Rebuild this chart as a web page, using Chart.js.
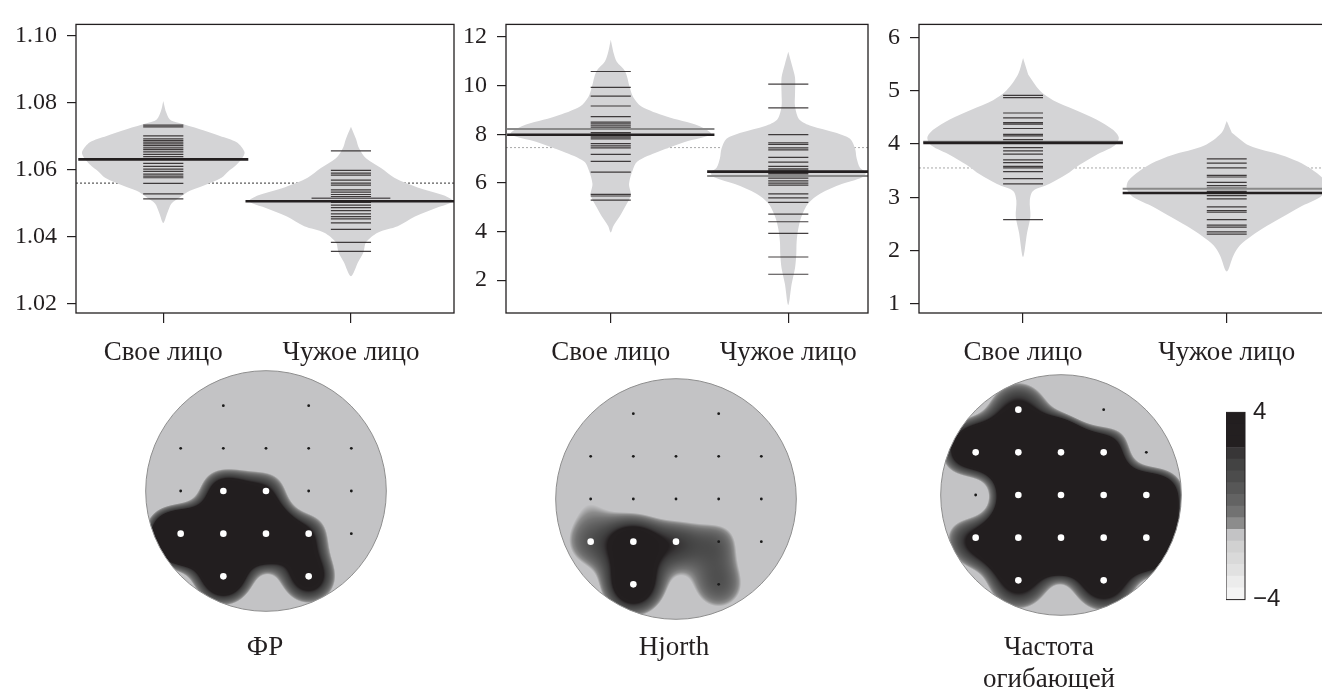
<!DOCTYPE html>
<html lang="ru">
<head>
<meta charset="utf-8">
<title>Beanplots and topographic maps</title>
<script src="https://cdn.jsdelivr.net/npm/chart.js@4.4.1/dist/chart.umd.min.js"></script>
<style>
  html, body { margin: 0; padding: 0; background: #fff; width: 1322px; height: 689px; overflow: hidden; }
  .panel { position: absolute; }
  .caption { position: absolute; width: 240px; text-align: center; font-family: "Liberation Serif", "Times New Roman", serif; font-size: 27px; line-height: 32px; color: #231f20; }
</style>
</head>
<body>
<div class="panel" style="left:0px;top:0px;width:460px;height:372px"><canvas id="beanFR"></canvas></div>
<div class="panel" style="left:440px;top:0px;width:440px;height:372px"><canvas id="beanHjorth"></canvas></div>
<div class="panel" style="left:860px;top:0px;width:480px;height:372px"><canvas id="beanEnv"></canvas></div>
<div class="panel" style="left:134px;top:359px;width:264px;height:264px"><canvas id="topoFR"></canvas></div>
<div class="panel" style="left:544px;top:367px;width:264px;height:264px"><canvas id="topoHjorth"></canvas></div>
<div class="panel" style="left:929px;top:363px;width:264px;height:264px"><canvas id="topoEnv"></canvas></div>
<div class="panel" style="left:1226px;top:390px;width:79px;height:232px"><canvas id="colorbar"></canvas></div>
<div class="caption" style="left:145px;top:630px">ФР</div>
<div class="caption" style="left:554px;top:630px">Hjorth</div>
<div class="caption" style="left:929px;top:630px">Частота<br>огибающей</div>
<script>
// ---------- data ----------
const categories = ["Свое лицо", "Чужое лицо"];

// ФР
const frOwn = [1.0733, 1.0728, 1.0701, 1.0692, 1.0687, 1.0682, 1.0677, 1.0672, 1.0665, 1.0660, 1.0653, 1.0646,
  1.0639, 1.0619, 1.0610, 1.0602, 1.0595, 1.0587, 1.0581, 1.0576, 1.0559, 1.0528, 1.0513];
const frOther = [1.0656, 1.0598, 1.0590, 1.0584, 1.0569, 1.0560, 1.0554, 1.0540, 1.0533, 1.0526, 1.0520, 1.0508,
  1.0502, 1.0494, 1.0487, 1.0478, 1.0468, 1.0460, 1.0453, 1.0441, 1.0422, 1.0383, 1.0356];
// bean outlines: [value, half width]
const frOwnShape = [[1.0805, 0], [1.0776, 0.012], [1.0750, 0.035], [1.0740, 0.08], [1.0721, 0.195], [1.0701, 0.302],
  [1.0682, 0.391], [1.0653, 0.433], [1.0634, 0.42], [1.0615, 0.39], [1.0595, 0.346], [1.0576, 0.31], [1.0552, 0.213],
  [1.0537, 0.142], [1.0518, 0.089], [1.0499, 0.044], [1.0470, 0.021], [1.0441, 0]];
const frOtherShape = [[1.0728, 0], [1.0692, 0.027], [1.0663, 0.044], [1.0634, 0.08], [1.0605, 0.16], [1.0576, 0.231],
  [1.0547, 0.355], [1.0523, 0.497], [1.0506, 0.542], [1.0489, 0.471], [1.0460, 0.341], [1.0431, 0.249], [1.0412, 0.142],
  [1.0383, 0.08], [1.0354, 0.067], [1.0325, 0.039], [1.0282, 0]];
const frMeans = [1.0631, 1.0506];
const frMedians = [null, 1.0515];
const frGrandMean = 1.0560;
const frTicks = [1.02, 1.04, 1.06, 1.08, 1.10];
const frTickLabels = ["1.02", "1.04", "1.06", "1.08", "1.10"];

// Hjorth
const hjOwn = [10.58, 9.93, 9.57, 9.16, 8.72, 8.50, 8.43, 8.37, 8.29, 8.07, 8.01, 7.97, 7.94, 7.88, 7.81, 7.61, 7.52,
  7.44, 7.17, 6.88, 6.44, 5.53, 5.46, 5.29];
const hjOther = [10.06, 9.08, 7.98, 7.65, 7.58, 7.44, 7.36, 7.05, 6.85, 6.68, 6.58, 6.52, 6.46, 6.39, 6.32, 6.26, 6.19,
  6.08, 5.99, 5.91, 5.55, 5.38, 5.20, 4.71, 4.40, 3.92, 2.95, 2.24];
const hjOwnShape = [[11.89, 0], [11.39, 0.014], [10.99, 0.033], [10.59, 0.081], [9.93, 0.107], [9.53, 0.126],
  [9.14, 0.173], [8.74, 0.31], [8.34, 0.498], [8.01, 0.564], [7.68, 0.417], [7.28, 0.267], [6.88, 0.15], [6.49, 0.122],
  [5.95, 0.103], [5.49, 0.113], [5.02, 0.081], [4.63, 0.051], [4.23, 0.015], [3.96, 0]];
const hjOtherShape = [[11.39, 0], [10.86, 0.02], [10.33, 0.038], [9.67, 0.038], [9.14, 0.038], [8.61, 0.062],
  [8.34, 0.13], [8.07, 0.263], [7.81, 0.348], [7.41, 0.376], [7.01, 0.385], [6.62, 0.404], [6.42, 0.437], [6.22, 0.414],
  [5.95, 0.301], [5.55, 0.179], [5.16, 0.113], [4.63, 0.075], [4.10, 0.056], [3.57, 0.047], [3.04, 0.045], [2.50, 0.038],
  [1.84, 0.019], [0.98, 0]];
const hjMeans = [7.98, 6.46];
const hjMedians = [8.21, 6.28];
const hjGrandMean = 7.45;
const hjTicks = [2, 4, 6, 8, 10, 12];
const hjTickLabels = ["2", "4", "6", "8", "10", "12"];

// Частота огибающей
const envOwn = [4.91, 4.87, 4.58, 4.49, 4.40, 4.37, 4.29, 4.18, 4.15, 4.08, 3.93, 3.87, 3.81, 3.70, 3.65, 3.58, 3.55,
  3.48, 3.35, 3.25, 2.58];
const envOther = [3.72, 3.64, 3.55, 3.41, 3.38, 3.28, 3.22, 3.17, 3.11, 3.08, 3.03, 2.97, 2.82, 2.75, 2.72, 2.58, 2.48,
  2.44, 2.35, 2.31];
const envOwnShape = [[5.61, 0], [5.30, 0.025], [5.00, 0.082], [4.82, 0.147], [4.64, 0.254], [4.46, 0.36], [4.27, 0.44],
  [4.12, 0.47], [3.97, 0.45], [3.79, 0.357], [3.61, 0.278], [3.43, 0.213], [3.25, 0.128], [3.12, 0.049], [2.94, 0.033],
  [2.64, 0.036], [2.34, 0.02], [1.88, 0]];
const envOtherShape = [[4.43, 0], [4.21, 0.025], [3.97, 0.11], [3.79, 0.27], [3.67, 0.35], [3.49, 0.43], [3.31, 0.483],
  [3.16, 0.491], [3.00, 0.458], [2.82, 0.36], [2.64, 0.278], [2.46, 0.196], [2.28, 0.123], [2.10, 0.065], [1.91, 0.033],
  [1.61, 0]];
const envMeans = [4.02, 3.08];
const envMedians = [4.04, 3.16];
const envGrandMean = 3.55;
const envTicks = [1, 2, 3, 4, 5, 6];
const envTickLabels = ["1", "2", "3", "4", "5", "6"];

// electrodes (10-20, grid units, Cz at 0,0)
const electrodes = ["Fp1", "Fp2", "F7", "F3", "Fz", "F4", "F8", "T3", "C3", "Cz", "C4", "T4", "T5", "P3", "Pz", "P4", "T6", "O1", "O2"];
const elecX = [-1, 1, -2, -1, 0, 1, 2, -2, -1, 0, 1, 2, -2, -1, 0, 1, 2, -1, 1];
const elecY = [-2, -2, -1, -1, -1, -1, -1, 0, 0, 0, 0, 0, 1, 1, 1, 1, 1, 2, 2];
// values on the colour scale at each electrode, and significance flags
const frField = [-1.25, -1.25, -1.25, -1.25, -1.25, -1.25, -1.25, -1.25, 4.4, 3.2, -1.25, -1.25, 8, 6, 6.5, 3.2, -1.25, 4.5, 3.8];
const frSig = [0, 0, 0, 0, 0, 0, 0, 0, 1, 1, 0, 0, 1, 1, 1, 1, 0, 1, 1];
const hjField = [-1.25, -1.25, -1.25, -1.25, -1.25, -1.25, -1.25, 1.0, -0.6, -1.25, -1.25, -1.25, 2.2, 5, 3.0, 2.4, -1.25, 5, 2.4];
const hjSig = [0, 0, 0, 0, 0, 0, 0, 0, 0, 0, 0, 0, 1, 1, 1, 0, 0, 1, 0];
const envField = [2.0, -1.25, 3.5, 6, 6, 3.8, -1.25, -1.25, 4, 6, 6, 5, 2.2, 6, 6, 6, 5, 2.2, 2.6];
const envSig = [1, 0, 1, 1, 1, 1, 0, 0, 1, 1, 1, 1, 1, 1, 1, 1, 1, 1, 1];

// colour scale
const cbarLevels = [-4, -3.5, -3, -2.5, -2, -1.5, -1, -0.5, 0, 0.5, 1, 1.5, 2, 2.5, 3, 3.5];
const cbarColors = ["#f4f4f4", "#ececec", "#e1e1e1", "#d9d9d9", "#d1d1d1", "#c3c3c5", "#8c8c8c", "#727272",
  "#636363", "#575757", "#4c4c4c", "#434343", "#383637", "#231f20", "#231f20", "#221e1f"];
const cbarTicks = [-4, 4];
const cbarTickLabels = ["\u22124", "4"];

// ---------- drawing ----------
const ink = "#231f20";
const serif = '"Liberation Serif", "Times New Roman", serif';
const sans = '"Liberation Sans", Arial, sans-serif';
const beanFill = "#d4d4d6";

const frame = {
  id: "frame",
  afterDraw(chart, args, opts) {
    const { ctx, chartArea: a } = chart;
    ctx.save();
    ctx.strokeStyle = ink;
    ctx.lineWidth = opts.width || 1.3;
    ctx.strokeRect(a.left, a.top, a.right - a.left, a.bottom - a.top);
    ctx.restore();
  }
};

function outline(pos, shape) {
  const left = shape.map(([y, w]) => ({ x: pos - w, y }));
  const right = shape.slice(1, -1).reverse().map(([y, w]) => ({ x: pos + w, y }));
  return left.concat(right);
}

function strokes(pos, values, half) {
  const pts = [];
  values.forEach(v => {
    if (v == null) return;
    pts.push({ x: pos - half, y: v }, { x: pos + half, y: v }, { x: pos, y: null });
  });
  return pts;
}

function makeBean(id, d, s) {
  const groups = [d.own, d.other];
  const shapes = [d.ownShape, d.otherShape];
  const widest = shapes.map(sh => Math.max(...sh.map(p => p[1])) + 0.02);
  const datasets = [];
  datasets.push({
    data: [{ x: s.xMin, y: d.grand }, { x: s.xMax, y: d.grand }],
    borderColor: s.grandColor, borderWidth: 1, borderDash: [2, 2], order: 10
  });
  shapes.forEach((sh, g) => datasets.push({
    data: outline(g + 1, sh), fill: "shape", backgroundColor: beanFill,
    borderColor: "rgba(0,0,0,0)", borderWidth: 0, tension: 0.3, order: 9
  }));
  datasets.push({
    data: groups.flatMap((vals, g) => strokes(g + 1, vals, s.lineHalf)),
    borderColor: "rgba(35,31,32,0.85)", borderWidth: 1.2, order: 8
  });
  datasets.push({
    data: d.medians.flatMap((m, g) => strokes(g + 1, [m], s.medianHalf || widest[g])),
    borderColor: s.medianColor, borderWidth: s.medianWidth, order: 7
  });
  datasets.push({
    data: d.means.flatMap((m, g) => strokes(g + 1, [m], widest[g])),
    borderColor: ink, borderWidth: 2.6, order: 6
  });
  datasets.forEach(ds => { ds.showLine = true; ds.pointRadius = 0; ds.spanGaps = false; });

  return new Chart(document.getElementById(id), {
    type: "scatter",
    data: { datasets },
    options: {
      responsive: true, maintainAspectRatio: false, animation: false, events: [],
      layout: { padding: { top: 15, right: s.padRight, left: 0, bottom: 0 } },
      plugins: { legend: { display: false }, tooltip: { enabled: false } },
      scales: {
        x: {
          type: "linear", min: s.xMin, max: s.xMax, bounds: "data",
          afterBuildTicks: sc => { sc.ticks = [{ value: 1 }, { value: 2 }]; },
          afterFit: sc => { sc.height = 59; },
          ticks: { callback: v => categories[v - 1], font: { family: serif, size: 27 }, color: ink, padding: 14, maxRotation: 0, autoSkip: false },
          grid: { drawOnChartArea: false, drawTicks: true, tickLength: 10, color: ink, lineWidth: 1.2 },
          border: { display: false }
        },
        y: {
          type: "linear", min: s.yMin, max: s.yMax, bounds: "data",
          afterBuildTicks: sc => { sc.ticks = d.ticks.map(v => ({ value: v })); },
          afterFit: sc => { sc.width = s.axisW; },
          ticks: { callback: (v, i) => d.tickLabels[i], font: { family: serif, size: 24 }, color: ink, padding: 10 },
          grid: { drawOnChartArea: false, drawTicks: true, tickLength: 9, color: ink, lineWidth: 1.2 },
          border: { display: false }
        }
      }
    },
    plugins: [frame]
  });
}

makeBean("beanFR",
  { own: frOwn, other: frOther, ownShape: frOwnShape, otherShape: frOtherShape, means: frMeans, medians: frMedians,
    grand: frGrandMean, ticks: frTicks, tickLabels: frTickLabels },
  { xMin: 0.535, xMax: 2.549, yMin: 1.0172, yMax: 1.1034, axisW: 76, padRight: 6, lineHalf: 0.107,
    medianHalf: 0.21, medianColor: ink, medianWidth: 1, grandColor: "#333" });

makeBean("beanHjorth",
  { own: hjOwn, other: hjOther, ownShape: hjOwnShape, otherShape: hjOtherShape, means: hjMeans, medians: hjMedians,
    grand: hjGrandMean, ticks: hjTicks, tickLabels: hjTickLabels },
  { xMin: 0.41, xMax: 2.449, yMin: 0.647, yMax: 12.517, axisW: 66, padRight: 12, lineHalf: 0.113,
    medianColor: "#8a8a8a", medianWidth: 2, grandColor: "#a8a8a8" });

makeBean("beanEnv",
  { own: envOwn, other: envOther, ownShape: envOwnShape, otherShape: envOtherShape, means: envMeans, medians: envMedians,
    grand: envGrandMean, ticks: envTicks, tickLabels: envTickLabels },
  { xMin: 0.489, xMax: 2.507, yMin: 0.831, yMax: 6.241, axisW: 59, padRight: 10, lineHalf: 0.098,
    medianColor: "#8a8a8a", medianWidth: 2, grandColor: "#a8a8a8" });

// topographic maps
const headRadius = 2.82;
const baseLevel = -1.25;
const sigma = 0.45;
const pivot = 0.5;
const stops = cbarLevels.map((lo, i) => [lo + 0.25, parseInt(cbarColors[i].slice(1, 3), 16),
  parseInt(cbarColors[i].slice(3, 5), 16), parseInt(cbarColors[i].slice(5, 7), 16)]);

function colourFor(f) {
  if (f <= stops[0][0]) return stops[0].slice(1);
  const last = stops[stops.length - 1];
  if (f >= last[0]) return last.slice(1);
  for (let i = 1; i < stops.length; i++) {
    if (f <= stops[i][0]) {
      const a = stops[i - 1], b = stops[i], t = (f - a[0]) / (b[0] - a[0]);
      return [a[1] + (b[1] - a[1]) * t, a[2] + (b[2] - a[2]) * t, a[3] + (b[3] - a[3]) * t];
    }
  }
  return last.slice(1);
}

function makeTopo(id, values, sig, eps, contrast) {
  const field = {
    id: "field",
    beforeDatasetsDraw(chart) {
      const { ctx, scales: { x, y } } = chart;
      const cx = x.getPixelForValue(0), cy = y.getPixelForValue(0);
      const rad = x.getPixelForValue(headRadius) - cx;
      const w = chart.width, h = chart.height;
      const off = document.createElement("canvas");
      off.width = w; off.height = h;
      const octx = off.getContext("2d");
      const img = octx.createImageData(w, h);
      const s2 = 2 * sigma * sigma;
      for (let py = 0; py < h; py++) {
        for (let px = 0; px < w; px++) {
          const dx = px + 0.5 - cx, dy = py + 0.5 - cy;
          if (dx * dx + dy * dy > (rad + 2) * (rad + 2)) continue;
          const u = x.getValueForPixel(px + 0.5), v = y.getValueForPixel(py + 0.5);
          let num = 0, den = 0;
          for (let i = 0; i < elecX.length; i++) {
            const ex = u - elecX[i], ey = v - elecY[i];
            const k = Math.exp(-(ex * ex + ey * ey) / s2);
            num += (values[i] - baseLevel) * k;
            den += k;
          }
          const interp = baseLevel + num / (den + eps);
          const f = Math.max(baseLevel, pivot + contrast * (interp - pivot));
          const c = colourFor(f);
          const o = (py * w + px) * 4;
          img.data[o] = c[0]; img.data[o + 1] = c[1]; img.data[o + 2] = c[2]; img.data[o + 3] = 255;
        }
      }
      octx.putImageData(img, 0, 0);
      ctx.save();
      ctx.beginPath();
      ctx.arc(cx, cy, rad, 0, Math.PI * 2);
      ctx.clip();
      ctx.drawImage(off, 0, 0, w, h);
      ctx.restore();
      ctx.save();
      ctx.beginPath();
      ctx.arc(cx, cy, rad, 0, Math.PI * 2);
      ctx.strokeStyle = "#8e8e8e";
      ctx.lineWidth = 1;
      ctx.stroke();
      ctx.restore();
    }
  };
  return new Chart(document.getElementById(id), {
    type: "scatter",
    data: {
      datasets: [{
        data: elecX.map((ex, i) => ({ x: ex, y: elecY[i] })),
        pointRadius: sig.map(s => s ? 3.3 : 1.4),
        pointBackgroundColor: sig.map(s => s ? "#ffffff" : "#1a1a1a"),
        pointBorderWidth: 0
      }]
    },
    options: {
      responsive: true, maintainAspectRatio: false, animation: false, events: [],
      layout: { padding: 0 },
      plugins: { legend: { display: false }, tooltip: { enabled: false } },
      scales: {
        x: { display: false, min: -3, max: 3 },
        y: { display: false, min: -3, max: 3, reverse: true }
      }
    },
    plugins: [field]
  });
}

makeTopo("topoFR", frField, frSig, 1.0, 5);
makeTopo("topoHjorth", hjField, hjSig, 1.0, 3.5);
makeTopo("topoEnv", envField, envSig, 0.5, 5);

// colour bar
new Chart(document.getElementById("colorbar"), {
  type: "bar",
  data: {
    labels: [""],
    datasets: cbarLevels.map((lo, i) => ({
      data: [[lo, lo + 0.5]], backgroundColor: cbarColors[i], borderWidth: 0,
      grouped: false, barPercentage: 1, categoryPercentage: 1
    }))
  },
  options: {
    responsive: true, maintainAspectRatio: false, animation: false, events: [],
    layout: { padding: { top: 19, bottom: 20, left: 0, right: 0 } },
    plugins: { legend: { display: false }, tooltip: { enabled: false }, frame: { width: 1 } },
    scales: {
      x: { display: false },
      y: {
        position: "right", min: -4, max: 4, bounds: "data",
        afterBuildTicks: sc => { sc.ticks = cbarTicks.map(v => ({ value: v })); },
        afterFit: sc => { sc.width = 60; },
        ticks: { callback: (v, i) => cbarTickLabels[i], font: { family: sans, size: 24 }, color: ink, padding: 8 },
        grid: { display: false, drawTicks: false },
        border: { display: false }
      }
    }
  },
  plugins: [frame]
});
</script>
</body>
</html>
